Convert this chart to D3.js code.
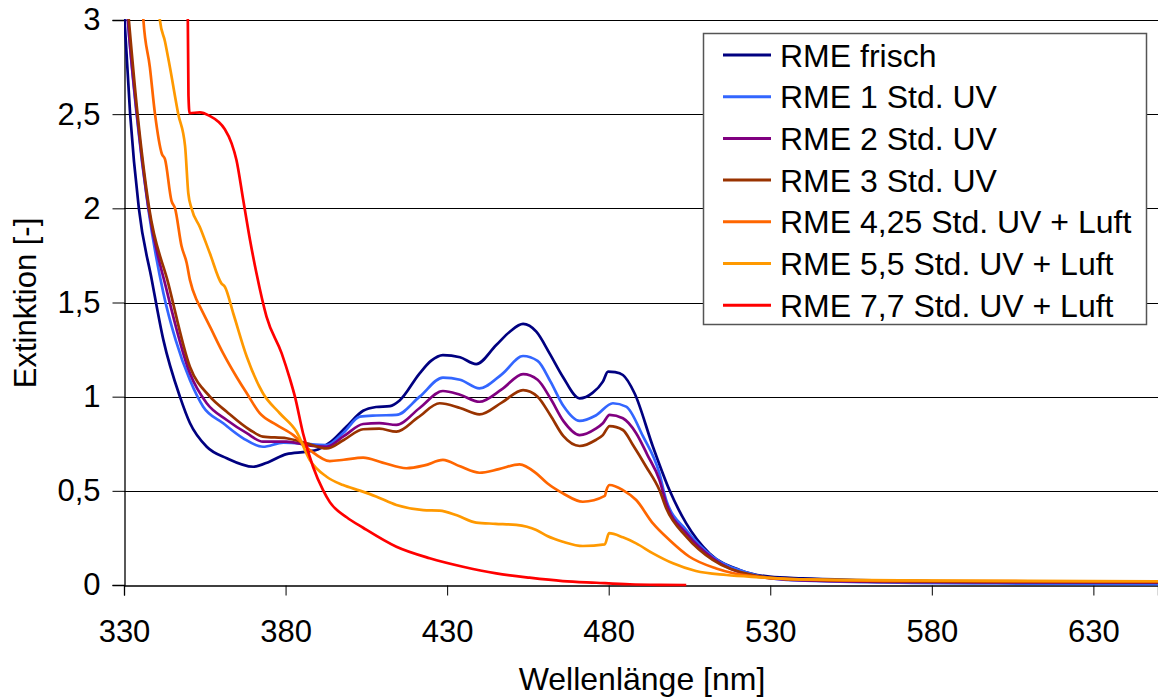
<!DOCTYPE html>
<html>
<head>
<meta charset="utf-8">
<script src="https://cdn.jsdelivr.net/npm/d3@7"></script>
<style>
  html, body { margin: 0; padding: 0; background: #fff; }
  svg { display: block; }
  text { font-family: "Liberation Sans", Arial, sans-serif; fill: #000; }
</style>
</head>
<body>
<svg id="chart" width="1158" height="699"></svg>
<script>
// ---------- data ----------
const seriesNames = [
  "RME frisch", "RME 1 Std. UV", "RME 2 Std. UV", "RME 3 Std. UV",
  "RME 4,25 Std. UV + Luft", "RME 5,5 Std. UV + Luft", "RME 7,7 Std. UV + Luft"
];
const seriesColors = ["#000080", "#3366FF", "#800080", "#993300", "#FF6600", "#FF9900", "#FF0000"];

const frischNm  = [330, 331.9, 334.6, 338.6, 342.2, 347.3, 350.4, 355.6, 361.8, 370, 375, 380.3, 386.5, 390, 394, 398.8, 404, 408, 412.3, 415.3, 421.5, 425, 428.7, 434, 439, 445.2, 449.4, 453.5, 457.6, 461.7, 465.8, 471, 475, 478.2, 479.8, 482, 484.4, 488, 493.7, 498.8, 504, 511.2, 520.5, 529.8, 540, 554.5, 580, 610, 650];
const frischVal = [3.05, 2.5, 2.0, 1.62, 1.30, 1.0, 0.86, 0.734, 0.673, 0.628, 0.655, 0.695, 0.708, 0.72, 0.76, 0.84, 0.925, 0.945, 0.95, 0.98, 1.124, 1.19, 1.221, 1.209, 1.173, 1.274, 1.345, 1.386, 1.345, 1.23, 1.106, 0.991, 1.02, 1.08, 1.133, 1.13, 1.115, 1.018, 0.734, 0.504, 0.327, 0.168, 0.08, 0.044, 0.035, 0.027, 0.02, 0.017, 0.015];

const uv1Nm  = [330, 331.2, 333.9, 337.5, 342.2, 346, 350.4, 354.5, 360.7, 366.9, 373, 379.3, 384.4, 392.7, 398, 403, 408, 414.3, 421.5, 428.7, 434, 440, 447, 453.5, 458, 462, 466, 471, 476, 481.3, 485.4, 490.6, 495.7, 497.8, 504, 512.2, 523.6, 535, 560, 600, 650];
const uv1Val = [3.3, 3.0, 2.5, 2.0, 1.549, 1.30, 1.088, 0.947, 0.859, 0.779, 0.734, 0.756, 0.752, 0.743, 0.81, 0.894, 0.90, 0.903, 1.0, 1.101, 1.09, 1.044, 1.12, 1.216, 1.19, 1.08, 0.95, 0.871, 0.9, 0.965, 0.947, 0.79, 0.593, 0.451, 0.292, 0.15, 0.062, 0.027, 0.015, 0.008, 0.005];

const uv2Nm  = [330, 331.2, 334.0, 337.6, 343.2, 350.4, 355.6, 361.8, 368, 373, 380.3, 386.5, 392.7, 398, 404, 409, 414.3, 421.5, 428.7, 434, 440, 447, 453.5, 458, 462, 466, 471, 476, 478.2, 480.3, 484.4, 488.5, 492, 495.7, 497.8, 504, 512.2, 523.6, 540, 580, 650];
const uv2Val = [3.3, 3.0, 2.5, 2.0, 1.566, 1.124, 0.965, 0.876, 0.806, 0.761, 0.761, 0.743, 0.734, 0.79, 0.855, 0.86, 0.85, 0.94, 1.03, 1.01, 0.973, 1.04, 1.12, 1.09, 0.99, 0.87, 0.796, 0.83, 0.859, 0.903, 0.885, 0.806, 0.69, 0.558, 0.434, 0.275, 0.142, 0.053, 0.025, 0.015, 0.012];

const uv3Nm  = [330, 331.5, 334.2, 337.8, 343.7, 350.4, 356.6, 361.8, 369, 373, 380.3, 386.5, 392.7, 398, 404, 409, 414.3, 421, 427.7, 434, 440, 447, 453.5, 458, 462, 466, 471, 476, 478.2, 480.3, 484.4, 487.5, 491.6, 495.7, 497.8, 504, 512.2, 524.6, 540, 580, 650];
const uv3Val = [3.3, 3.0, 2.5, 2.0, 1.602, 1.159, 1.0, 0.92, 0.823, 0.788, 0.779, 0.752, 0.725, 0.77, 0.827, 0.83, 0.814, 0.89, 0.965, 0.94, 0.906, 0.97, 1.035, 1.0, 0.9, 0.79, 0.738, 0.77, 0.796, 0.844, 0.823, 0.743, 0.628, 0.504, 0.407, 0.257, 0.133, 0.053, 0.028, 0.018, 0.015];

const luft425Nm  = [335, 336, 338, 339.6, 341.7, 342.7, 344.7, 345.8, 347.8, 349.4, 350.4, 352.5, 353.5, 356.6, 360.7, 364.8, 368, 372, 377.2, 382.4, 387.5, 393.7, 398, 404, 410, 417.4, 423, 428.7, 434, 440, 446, 452.4, 457.6, 461, 465.8, 472, 478.8, 479.3, 480.3, 484.4, 488.5, 493.7, 498.8, 505, 513.3, 523.6, 539, 570, 610, 650];
const luft425Val = [3.3, 3.0, 2.75, 2.5, 2.29, 2.26, 2.04, 2.0, 1.80, 1.71, 1.62, 1.513, 1.478, 1.372, 1.23, 1.106, 1.018, 0.912, 0.85, 0.796, 0.717, 0.658, 0.665, 0.676, 0.65, 0.62, 0.635, 0.664, 0.63, 0.596, 0.615, 0.641, 0.593, 0.54, 0.487, 0.442, 0.473, 0.504, 0.531, 0.504, 0.451, 0.327, 0.239, 0.15, 0.088, 0.048, 0.03, 0.022, 0.02, 0.02];

const luft55Nm  = [340, 341.1, 342.7, 344.2, 346.8, 348.9, 349.9, 350.9, 353.5, 356.6, 360.2, 361.2, 363.8, 368, 373, 378.2, 383.4, 387.5, 392.7, 397.8, 403, 408, 414.3, 422.6, 427.7, 433, 439, 445, 451.4, 457.6, 461, 465.8, 472, 478.8, 480.1, 484.4, 488.5, 493.7, 499.9, 507, 516.4, 526.7, 539, 570, 610, 650];
const luft55Val = [3.3, 3.0, 2.885, 2.75, 2.5, 2.33, 2.08, 2.0, 1.90, 1.76, 1.60, 1.584, 1.443, 1.212, 1.018, 0.912, 0.814, 0.664, 0.575, 0.531, 0.501, 0.47, 0.425, 0.398, 0.395, 0.37, 0.331, 0.325, 0.319, 0.292, 0.26, 0.23, 0.207, 0.216, 0.275, 0.253, 0.221, 0.168, 0.115, 0.074, 0.053, 0.041, 0.03, 0.025, 0.022, 0.02];

const luft77Nm  = [349.6, 349.95, 350.3, 353.5, 356.6, 359.2, 361.2, 363.3, 364.8, 366.9, 369, 371, 374.1, 378.8, 381.3, 382.9, 385.4, 388.5, 391.6, 393.7, 398.9, 404, 414.3, 424.6, 434.9, 445.2, 455.5, 465.8, 476.2, 486.5, 495.7, 504];
const luft77Val = [3.3, 2.6, 2.505, 2.51, 2.49, 2.46, 2.42, 2.345, 2.257, 2.044, 1.832, 1.655, 1.425, 1.23, 1.097, 1.0, 0.806, 0.628, 0.504, 0.44, 0.36, 0.304, 0.203, 0.142, 0.097, 0.062, 0.039, 0.021, 0.012, 0.004, 0.001, 0];

const seriesNm  = [frischNm, uv1Nm, uv2Nm, uv3Nm, luft425Nm, luft55Nm, luft77Nm];
const seriesVal = [frischVal, uv1Val, uv2Val, uv3Val, luft425Val, luft55Val, luft77Val];

const xTicks = [330, 380, 430, 480, 530, 580, 630];
const yTicks = [0, 0.5, 1, 1.5, 2, 2.5, 3];
const xTitle = "Wellenlänge [nm]";
const yTitle = "Extinktion [-]";

// ---------- layout ----------
const svg = d3.select("#chart");
const L = 124, R = 1158, T = 20, B = 585;
const x = d3.scaleLinear().domain([330, 650]).range([L, R]);
const y = d3.scaleLinear().domain([0, 3]).range([B, T]);
const fmt = v => String(v).replace(".", ",");

svg.append("defs").append("clipPath").attr("id", "plotclip")
  .append("rect").attr("x", L).attr("y", T - 1).attr("width", R - L).attr("height", B - T + 3);

// gridlines
svg.append("g").selectAll("line").data(yTicks.filter(d => d > 0)).join("line")
  .attr("x1", L).attr("x2", R)
  .attr("y1", d => Math.round(y(d)) + 0.5).attr("y2", d => Math.round(y(d)) + 0.5)
  .attr("stroke", "#000").attr("stroke-width", 1);

// y axis
const yAxis = svg.append("g").attr("transform", `translate(${L + 0.5},0)`)
  .call(d3.axisLeft(y).tickValues(yTicks).tickFormat(fmt).tickSize(12).tickPadding(12));
yAxis.select(".domain").attr("stroke", "#000").attr("stroke-width", 1.3);
yAxis.selectAll(".tick line").attr("stroke", "#000");
yAxis.selectAll(".tick text").style("font-size", "31px").attr("font-family", null).attr("fill", "#000");

// x axis
const xAxis = svg.append("g").attr("transform", `translate(0,${B + 0.5})`)
  .call(d3.axisBottom(x).tickValues(xTicks).tickFormat(d3.format("d")).tickSize(10).tickPadding(24));
xAxis.select(".domain").attr("stroke", "#000").attr("stroke-width", 1.3);
xAxis.selectAll(".tick line").attr("stroke", "#000");
xAxis.selectAll(".tick text").style("font-size", "31px").attr("font-family", null).attr("fill", "#000");

// lines
const line = d3.line().x(d => x(d[0])).y(d => y(d[1])).curve(d3.curveMonotoneX);
const gLines = svg.append("g").attr("clip-path", "url(#plotclip)");
seriesNames.forEach((name, i) => {
  const pts = seriesNm[i].map((n, j) => [n, seriesVal[i][j]]);
  gLines.append("path").datum(pts)
    .attr("d", line).attr("fill", "none")
    .attr("stroke", seriesColors[i]).attr("stroke-width", 2.7)
    .attr("stroke-linejoin", "round");
});

// axis titles
svg.append("text").attr("x", 642).attr("y", 690).attr("text-anchor", "middle")
  .style("font-size", "32px").text(xTitle);
svg.append("text").attr("transform", "translate(36,303) rotate(-90)").attr("text-anchor", "middle")
  .style("font-size", "31px").text(yTitle);

// legend
const lg = svg.append("g");
lg.append("rect").attr("x", 703.5).attr("y", 33.5).attr("width", 443).attr("height", 291)
  .attr("fill", "#fff").attr("stroke", "#555").attr("stroke-width", 1.5);
seriesNames.forEach((name, i) => {
  const cy = 55 + i * 41.7;
  lg.append("line").attr("x1", 723).attr("x2", 771).attr("y1", cy).attr("y2", cy)
    .attr("stroke", seriesColors[i]).attr("stroke-width", 3);
  lg.append("text").attr("x", 780).attr("y", cy + 11.5).style("font-size", "32px").text(name);
});
</script>
</body>
</html>
